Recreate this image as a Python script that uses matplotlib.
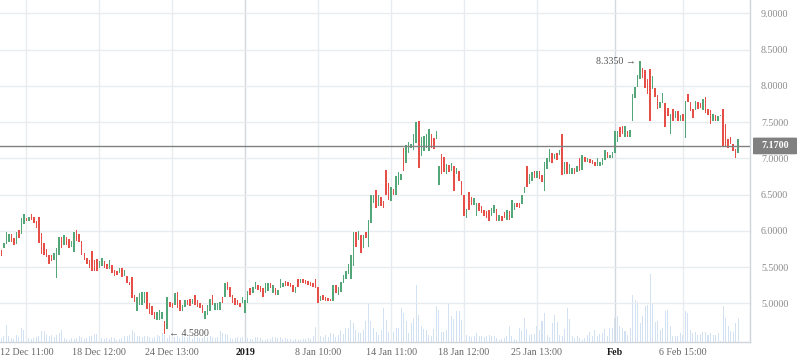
import matplotlib
matplotlib.use('Agg')
import matplotlib.pyplot as plt
import numpy as np
from matplotlib.patches import FancyBboxPatch
from matplotlib.transforms import blended_transform_factory

plt.rcParams['font.family'] = ['Liberation Serif', 'DejaVu Serif']

# candle opens / closes, rows of 10
opens = [
    5.73, 5.76, 5.82, 5.84, 5.95, 5.90, 5.82, 6.01, 5.95, 6.10,
    6.18, 6.13, 6.23, 6.19, 6.13, 6.19, 5.97, 5.83, 5.75, 5.66,
    5.67, 5.60, 5.35, 5.67, 5.92, 5.81, 5.92, 5.88, 5.77, 5.71,
    6.01, 5.95, 5.86, 5.69, 5.63, 5.60, 5.72, 5.60, 5.61, 5.49,
    5.52, 5.58, 5.54, 5.47, 5.53, 5.46, 5.45, 5.42, 5.49, 5.37,
    5.38, 5.30, 5.36, 5.12, 4.89, 4.98, 4.98, 5.01, 5.15, 5.00,
    4.96, 4.88, 4.77, 4.77, 4.79, 4.75, 4.65, 5.02, 5.00, 4.98,
    5.15, 5.05, 4.89, 4.95, 5.05, 5.06, 4.99, 5.12, 5.05, 5.00,
    4.98, 4.79, 4.84, 4.89, 5.12, 4.91, 4.91, 4.91, 5.09, 5.09,
    5.29, 5.23, 5.12, 5.07, 5.05, 5.00, 5.00, 4.86, 5.00, 5.21,
    5.14, 5.20, 5.25, 5.24, 5.21, 5.14, 5.17, 5.28, 5.14, 5.21,
    5.12, 5.21, 5.22, 5.31, 5.29, 5.28, 5.25, 5.14, 5.34, 5.28,
    5.34, 5.32, 5.31, 5.29, 5.28, 5.34, 5.23, 5.03, 5.11, 5.08,
    5.07, 5.06, 5.03, 5.25, 5.12, 5.16, 5.28, 5.34, 5.40, 5.33,
    5.52, 5.99, 5.87, 5.94, 5.76, 5.98, 5.78, 6.11, 6.38, 6.56,
    6.34, 6.47, 6.41, 6.84, 6.66, 6.41, 6.58, 6.50, 6.63, 6.70,
    7.14, 6.93, 7.07, 7.14, 7.12, 7.21, 7.51, 7.03, 7.10, 7.14,
    7.10, 7.34, 7.28, 7.27, 6.63, 7.06, 7.02, 6.79, 6.91, 6.82,
    6.89, 6.79, 6.82, 6.68, 6.50, 6.18, 6.53, 6.47, 6.36, 6.20,
    6.38, 6.34, 6.28, 6.27, 6.29, 6.20, 6.24, 6.30, 6.13, 6.20,
    6.26, 6.15, 6.27, 6.17, 6.28, 6.39, 6.38, 6.37, 6.52, 6.90,
    6.64, 6.68, 6.82, 6.73, 6.83, 6.77, 6.55, 6.85, 6.95, 7.07,
    6.99, 7.07, 7.04, 7.34, 6.78, 6.95, 6.79, 6.78, 6.87, 6.81,
    7.00, 6.84, 7.02, 6.95, 6.99, 6.98, 6.95, 6.89, 6.89, 6.91,
    6.98, 7.09, 7.00, 7.00, 7.07, 7.22, 7.43, 7.44, 7.29, 7.37,
    7.30, 7.51, 7.83, 7.98, 8.10, 8.25, 8.22, 8.10, 8.23, 7.95,
    7.97, 7.87, 7.69, 7.76, 7.76, 7.69, 7.33, 7.68, 7.56, 7.65,
    7.52, 7.61, 7.28, 7.89, 7.78, 7.68, 7.66, 7.78, 7.76, 7.67,
    7.84, 7.68, 7.67, 7.52, 7.60, 7.51, 7.585, 7.68, 7.47, 7.26,
    7.29, 7.20, 7.13, 7.07,
]
closes = [
    5.65, 5.83, 5.98, 5.95, 5.84, 5.80, 5.98, 5.90, 6.18, 6.23,
    6.13, 6.19, 6.15, 6.11, 6.04, 5.83, 5.68, 5.67, 5.64, 5.54,
    5.58, 5.69, 5.76, 5.92, 5.76, 5.94, 5.81, 5.76, 5.86, 5.98,
    5.86, 5.85, 5.66, 5.60, 5.54, 5.48, 5.44, 5.44, 5.44, 5.58,
    5.63, 5.49, 5.47, 5.60, 5.42, 5.37, 5.39, 5.49, 5.36, 5.46,
    5.28, 5.25, 5.07, 5.02, 5.09, 5.14, 5.15, 5.16, 4.92, 4.85,
    4.84, 4.79, 4.88, 4.91, 4.88, 4.58, 5.09, 4.95, 4.93, 5.14,
    4.93, 4.89, 4.98, 5.04, 4.98, 4.96, 5.06, 4.98, 4.95, 4.93,
    4.87, 4.89, 4.98, 5.06, 4.98, 5.00, 5.00, 5.02, 5.00, 5.28,
    5.18, 5.09, 5.00, 4.98, 4.98, 4.95, 5.09, 5.05, 5.17, 5.11,
    5.23, 5.29, 5.18, 5.15, 5.08, 5.28, 5.28, 5.21, 5.25, 5.12,
    5.18, 5.34, 5.28, 5.24, 5.24, 5.23, 5.15, 5.23, 5.22, 5.34,
    5.28, 5.26, 5.25, 5.24, 5.23, 5.21, 5.00, 5.10, 5.05, 5.03,
    5.03, 5.03, 5.25, 5.14, 5.22, 5.30, 5.39, 5.44, 5.54, 5.67,
    5.99, 5.78, 6.00, 5.69, 5.94, 5.90, 6.15, 6.50, 6.50, 6.32,
    6.50, 6.34, 6.31, 6.50, 6.43, 6.61, 6.49, 6.75, 6.81, 6.79,
    6.83, 7.18, 7.23, 7.19, 7.34, 7.50, 6.87, 7.30, 7.31, 7.33,
    7.40, 7.14, 7.13, 7.38, 6.89, 6.79, 6.81, 6.92, 6.81, 6.93,
    6.55, 6.87, 6.68, 6.50, 6.20, 6.30, 6.29, 6.35, 6.45, 6.39,
    6.27, 6.24, 6.20, 6.18, 6.14, 6.31, 6.35, 6.14, 6.22, 6.13,
    6.17, 6.29, 6.15, 6.43, 6.38, 6.33, 6.31, 6.50, 6.61, 6.60,
    6.79, 6.81, 6.73, 6.83, 6.72, 6.67, 6.95, 7.00, 7.13, 6.93,
    7.06, 6.98, 7.11, 6.77, 6.95, 6.78, 6.92, 6.87, 6.79, 6.89,
    6.83, 7.04, 6.95, 7.00, 6.93, 6.92, 6.89, 7.00, 6.95, 7.00,
    7.11, 7.01, 7.05, 7.09, 7.37, 7.38, 7.30, 7.33, 7.45, 7.30,
    7.39, 7.89, 7.98, 8.15, 8.335, 8.11, 7.97, 7.88, 7.52, 8.14,
    7.85, 7.68, 7.78, 7.90, 7.43, 7.58, 7.61, 7.51, 7.65, 7.51,
    7.59, 7.51, 7.79, 7.78, 7.65, 7.56, 7.79, 7.68, 7.69, 7.82,
    7.62, 7.59, 7.47, 7.61, 7.51, 7.58, 7.59, 7.165, 7.165, 7.14,
    7.20, 7.10, 7.005, 7.26,
]
volume = [
    4, 6, 17, 6, 4, 3, 7, 5, 14, 12,
    12, 4, 3, 4, 5, 6, 11, 11, 7, 6, 7, 5, 7, 9, 12, 4, 3, 2, 4, 3, 4, 6, 5, 3, 4, 6, 6, 8, 8,
    6, 4, 3, 4, 3, 5, 4, 2, 3, 4, 6, 6, 7, 12, 9, 6, 6, 5, 6, 6, 5, 4, 5, 7, 6, 9, 7, 4, 7,
    4, 5, 6, 4, 7, 5, 5, 6, 3, 7, 5, 4, 4, 6, 5, 6, 5, 4, 5, 11, 9, 8, 7, 4, 3, 4, 5, 4, 5,
    5, 4, 3, 3, 5, 5, 4, 2, 2, 3, 3, 5, 5, 4, 5, 3, 4, 3, 3, 2, 3, 2, 2, 3, 3, 4, 3, 6, 15,
    7, 6, 5, 7, 5, 9, 8, 5, 7, 12, 8, 14, 14, 22, 19, 12, 10, 9, 12, 21, 39, 21, 14, 10, 7, 12, 34, 22,
    10, 12, 10, 14, 14, 34, 29, 21, 9, 19, 24, 57, 27, 16, 13, 12, 7, 6, 13, 36, 32, 10, 10, 12, 39, 26, 23, 31, 31,
    22, 12, 7, 6, 5, 6, 9, 6, 6, 5, 6, 7, 6, 6, 4, 2, 3, 4, 6, 16, 6, 3, 2, 14, 11, 24, 13, 7, 8,
    8, 16, 12, 21, 29, 7, 5, 19, 27, 20, 7, 6, 13, 34, 23, 6, 4, 6, 4, 2, 4, 7, 10, 6, 12, 6, 8, 9, 13, 6, 14,
    14, 24, 26, 16, 14, 11, 7, 14, 47, 42, 40, 19, 26, 36, 37, 68, 39, 20, 21, 12,
    14, 31, 32, 16, 6, 6, 6, 9, 7, 31, 29, 12, 9, 10, 7, 8, 10, 10, 7, 9,
    7, 7, 9, 1, 36, 24, 16, 11, 10, 19, 24,
]

tick_idx = [10, 39, 68, 97, 126, 155, 184, 213, 244, 271]
tick_labels = ['12 Dec 11:00', '18 Dec 12:00', '24 Dec 13:00', '2019', '8 Jan 10:00',
               '14 Jan 11:00', '18 Jan 12:00', '25 Jan 13:00', 'Feb', '6 Feb 15:00']
major_labels = ['2019', 'Feb']
price_ticks = [5.0, 5.5, 6.0, 6.5, 7.0, 7.5, 8.0, 8.5, 9.0]
last_price = 7.17

up_col = '#52a678'
down_col = '#e64e48'

o = np.array(opens)
c = np.array(closes)
x = np.arange(len(o))
lo = np.minimum(o, c)
hi = np.maximum(o, c)
colors = np.where(c >= o, up_col, down_col)

fig = plt.figure(figsize=(7.98, 3.63), dpi=100)
ax = fig.add_axes([0, 21 / 363, 750 / 798, 342 / 363])
vol_ax = ax.twinx()
ax.set_zorder(2)
ax.patch.set_visible(False)
vol_ax.set_zorder(1)

# volume
vol_ax.bar(x, volume, width=0.4, color='#d2e2f3', linewidth=0)
vol_ax.set_ylim(0, max(volume) / 0.199)
vol_ax.set_yticks([])
for s in vol_ax.spines.values():
    s.set_visible(False)

# candles
ax.bar(x, np.maximum(hi - lo, 0.006), bottom=lo, width=0.6, color=colors, linewidth=0)

ax.set_xlim(-0.5, len(o) + 3.7)
ax.set_ylim(4.466, 9.183)

ax.set_xticks(tick_idx)
ax.set_xticklabels(tick_labels)
ax.set_yticks(price_ticks)
ax.set_yticklabels([f'{p:.4f}' for p in price_ticks])
ax.yaxis.tick_right()
ax.tick_params(axis='y', length=0, pad=8, labelsize=7.2, labelcolor='#8a8a8a')
ax.tick_params(axis='x', length=0, pad=4, labelsize=7.2, labelcolor='#666666')
ax.grid(True, color='#e8ebef', linewidth=1.0)
ax.set_axisbelow(True)
for gl, lab in zip(ax.get_xgridlines(), tick_labels):
    if lab in major_labels:
        gl.set_color('#d3d8de')
for tl in ax.get_xticklabels():
    if tl.get_text() in major_labels:
        tl.set_color('#1a1a1a')
        tl.set_fontweight('bold')

for side in ['top', 'left']:
    ax.spines[side].set_visible(False)
for side in ['right', 'bottom']:
    ax.spines[side].set_color('#cfd4da')
    ax.spines[side].set_linewidth(1.0)

# current price line and tag
ax.axhline(last_price, color='#808080', linewidth=1.0, zorder=3)
tr = blended_transform_factory(fig.transFigure, ax.transData)
tag = FancyBboxPatch((753 / 798, last_price - 0.115), 44 / 798, 0.23,
                     boxstyle='round,pad=0,rounding_size=0.004', transform=tr,
                     facecolor='#808080', edgecolor='none', clip_on=False, zorder=5)
ax.add_patch(tag)
ax.text(775 / 798, last_price, f'{last_price:.4f}', transform=tr, ha='center', va='center',
        color='white', fontsize=7.2, fontweight='bold', zorder=6, clip_on=False)

# max / min markers
i_max = int(np.argmax(hi))
i_min = int(np.argmin(lo))
ax.annotate(f'{hi[i_max]:.4f} \u2192', xy=(i_max, hi[i_max]), xytext=(-3, 0),
            textcoords='offset points', ha='right', va='center', fontsize=7.2, color='#555555')
ax.annotate(f'\u2190 {lo[i_min]:.4f}', xy=(i_min, lo[i_min]), xytext=(3, 0),
            textcoords='offset points', ha='left', va='center', fontsize=7.2, color='#555555')

fig.savefig('out.png', dpi=100)
